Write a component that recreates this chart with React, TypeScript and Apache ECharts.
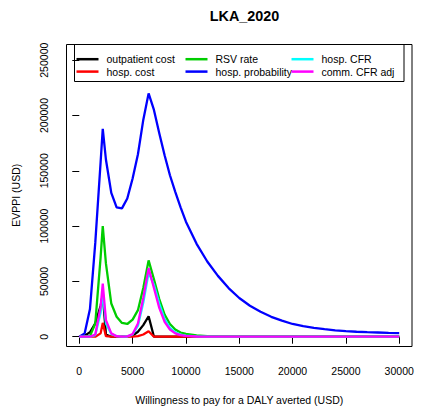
import React, { useEffect, useRef } from "react";
import * as echarts from "echarts";

// Willingness-to-pay grid (USD per DALY averted)
const wtp = [
  0, 500, 1000, 1500, 2000, 2200, 2500, 3000, 3500, 4000, 4500, 5000, 5500, 6000,
  6500, 7000, 7500, 8000, 8500, 9000, 9500, 10000, 11000, 12000, 13000, 14000,
  15000, 16000, 17000, 18000, 19000, 20000, 21000, 22000, 23000, 24000, 25000,
  26000, 27000, 28000, 29000, 30000,
];

// EVPPI (USD) per parameter group
const outpatientCost = [
  0, 1000, 4000, 12000, 28000, 38000, 2000, 0, 0, 0, 0, 1000, 4500, 10500,
  18500, 0, 0, 0, 0, 0, 0, 0, 0, 0, 0, 0, 0, 0, 0, 0, 0, 0, 0, 0, 0, 0, 0, 0, 0, 0, 0, 0,
];
const hospCost = [
  0, 0, 0, 0, 3000, 12500, 500, 0, 0, 0, 0, 0, 500, 2000,
  5000, 0, 0, 0, 0, 0, 0, 0, 0, 0, 0, 0, 0, 0, 0, 0, 0, 0, 0, 0, 0, 0, 0, 0, 0, 0, 0, 0,
];
const rsvRate = [
  0, 0, 500, 12000, 72000, 100000, 66000, 30000, 18000, 12500, 11500, 15500, 24000, 44000,
  69000, 52000, 34000, 20000, 11500, 6500, 3800, 2500, 1200, 500, 200, 100,
  0, 0, 0, 0, 0, 0, 0, 0, 0, 0, 0, 0, 0, 0, 0, 0,
];
const hospProbability = [
  0, 3000, 25000, 85000, 158000, 188000, 160000, 130000, 117000, 116000, 125000, 143000, 165000, 196000,
  220000, 205000, 184000, 164000, 146000, 131000, 117000, 104000, 84000, 68000, 55000, 44000,
  35000, 28000, 22500, 18000, 14500, 11500, 9500, 8000, 6800, 5800, 5000,
  4500, 4100, 3800, 3500, 3300,
];
const hospCFR = [
  0, 0, 0, 1500, 22000, 40000, 12000, 2500, 500, 0, 200, 2000, 10000, 31000,
  58000, 47000, 30000, 16000, 8000, 4000, 2000, 900, 300, 0, 0, 0,
  0, 0, 0, 0, 0, 0, 0, 0, 0, 0, 0, 0, 0, 0, 0, 0,
];
const commCFRAdj = [
  0, 0, 0, 2000, 27000, 48000, 15000, 3000, 500, 0, 300, 2500, 12000, 35000,
  62000, 44000, 26000, 13500, 6500, 3000, 1500, 700, 200, 0, 0, 0,
  0, 0, 0, 0, 0, 0, 0, 0, 0, 0, 0, 0, 0, 0, 0, 0,
];

const xTicks = [0, 5000, 10000, 15000, 20000, 25000, 30000];
const yTicks = [0, 50000, 100000, 150000, 200000, 250000];

const seriesDefs = [
  { name: "outpatient cost", color: "#000000", values: outpatientCost },
  { name: "hosp. cost", color: "#FF0000", values: hospCost },
  { name: "RSV rate", color: "#00CD00", values: rsvRate },
  { name: "hosp. probability", color: "#0000FF", values: hospProbability },
  { name: "hosp. CFR", color: "#00FFFF", values: hospCFR },
  { name: "comm. CFR adj", color: "#FF00FF", values: commCFRAdj },
];

const FONT = "'Liberation Sans', Arial, Helvetica, sans-serif";

// plot region (pixels)
const PLOT_LEFT = 66.5;
const PLOT_TOP = 44.5;
const PLOT_RIGHT = 412;
const PLOT_BOTTOM = 346.5;

export default function App() {
  const ref = useRef<HTMLDivElement>(null);

  useEffect(() => {
    if (!ref.current) return;
    const chart = echarts.init(ref.current, null, { renderer: "svg" });

    const legendCommon = {
      orient: "vertical" as const,
      top: 53,
      padding: 0,
      itemWidth: 22,
      itemHeight: 2.5,
      itemGap: 0,
      icon: "rect",
      selectedMode: false,
      textStyle: {
        fontFamily: FONT,
        fontSize: 10.5,
        color: "#000",
        lineHeight: 12.4,
        padding: [0, 0, 0, 3],
      },
    };

    const plain = (v: number) => String(v);

    chart.setOption({
      animation: false,
      backgroundColor: "#ffffff",
      title: {
        text: "LKA_2020",
        left: 239.5,
        textAlign: "center",
        top: 4,
        textStyle: {
          fontFamily: FONT,
          fontSize: 14.4,
          fontWeight: "bold",
          color: "#000",
        },
      },
      legend: [
        { ...legendCommon, left: 76.5, data: ["outpatient cost", "hosp. cost"] },
        { ...legendCommon, left: 185.5, data: ["RSV rate", "hosp. probability"] },
        { ...legendCommon, left: 291.5, data: ["hosp. CFR", "comm. CFR adj"] },
      ],
      graphic: [
        {
          type: "rect",
          shape: {
            x: PLOT_LEFT,
            y: PLOT_TOP,
            width: PLOT_RIGHT - PLOT_LEFT,
            height: PLOT_BOTTOM - PLOT_TOP,
          },
          style: { fill: "none", stroke: "#000", lineWidth: 1 },
          z: 10,
        },
        {
          type: "rect",
          shape: { x: 74.5, y: 44.5, width: 329.5, height: 37 },
          style: { fill: "none", stroke: "#000", lineWidth: 1 },
          z: 10,
        },
      ],
      grid: {
        left: PLOT_LEFT,
        right: 430 - PLOT_RIGHT,
        top: PLOT_TOP,
        bottom: 410 - PLOT_BOTTOM,
      },
      xAxis: {
        type: "value",
        min: -1200,
        max: 31200,
        name: "Willingness to pay for a DALY averted (USD)",
        nameLocation: "middle",
        nameGap: 48,
        nameTextStyle: { fontFamily: FONT, fontSize: 10.5, color: "#000" },
        axisLine: { show: false },
        splitLine: { show: false },
        axisTick: {
          show: true,
          length: 7,
          customValues: xTicks,
          lineStyle: { color: "#000", width: 1 },
        },
        axisLabel: {
          customValues: xTicks,
          formatter: plain,
          margin: 19,
          fontFamily: FONT,
          fontSize: 10.5,
          color: "#000",
        },
      },
      yAxis: {
        type: "value",
        min: -8400,
        max: 264200,
        name: "EVPPI (USD)",
        nameLocation: "middle",
        nameGap: 45,
        nameTextStyle: { fontFamily: FONT, fontSize: 10.5, color: "#000" },
        axisLine: { show: false },
        splitLine: { show: false },
        axisTick: {
          show: true,
          length: 7,
          customValues: yTicks,
          lineStyle: { color: "#000", width: 1 },
        },
        axisLabel: {
          customValues: yTicks,
          formatter: plain,
          rotate: 90,
          margin: 17,
          fontFamily: FONT,
          fontSize: 10.5,
          color: "#000",
        },
      },
      series: seriesDefs.map((s) => ({
        name: s.name,
        type: "line",
        data: wtp.map((x, i) => [x, s.values[i]]),
        showSymbol: false,
        symbol: "none",
        color: s.color,
        lineStyle: { color: s.color, width: 2.3 },
        itemStyle: { color: s.color },
        emphasis: { disabled: true },
      })),
    });

    return () => chart.dispose();
  }, []);

  return (
    <div
      ref={ref}
      style={{ position: "fixed", left: 0, top: 0, width: 430, height: 410 }}
    />
  );
}
